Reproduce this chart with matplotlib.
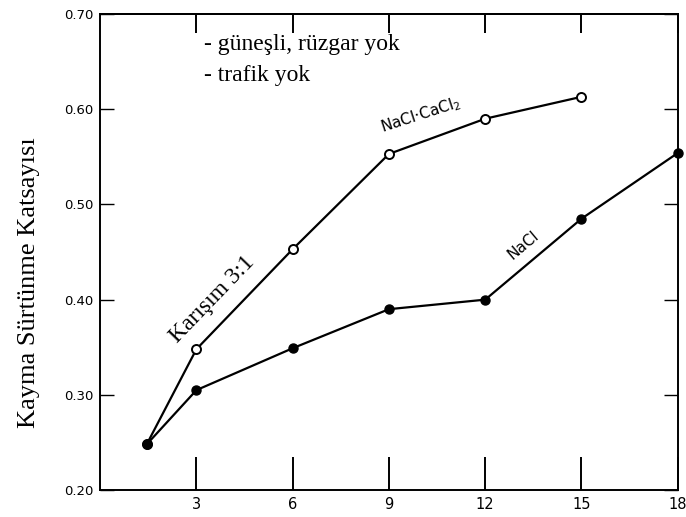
import matplotlib.pyplot as plt

# veriler
gun_karisim = [1.45, 3, 6, 9, 12, 15]
karisim = [0.248, 0.348, 0.453, 0.553, 0.590, 0.613]
gun_nacl = [1.45, 3, 6, 9, 12, 15, 18]
nacl = [0.248, 0.305, 0.349, 0.390, 0.400, 0.485, 0.554]
xticks = [3, 6, 9, 12, 15, 18]
yticks = [0.20, 0.30, 0.40, 0.50, 0.60, 0.70]

fig = plt.figure(figsize=(6.86, 5.17), dpi=100)
ax = fig.add_axes([0.146, 0.052, 0.842, 0.921])

ax.plot(gun_karisim, karisim, color='black', lw=1.6, marker='o', ms=6.5,
        mfc='white', mec='black', mew=1.4, clip_on=False, zorder=3)
ax.plot(gun_nacl, nacl, color='black', lw=1.6, marker='o', ms=6.5,
        mfc='black', mec='black', clip_on=False, zorder=3)

ax.set_xlim(0, 18)
ax.set_ylim(0.20, 0.70)
ax.set_xticks(xticks)
ax.set_xticklabels([str(t) for t in xticks], fontsize=10.5)
ax.set_yticks(yticks)
ax.set_yticklabels(['%.2f' % v for v in yticks], fontsize=9.5)
ax.tick_params(axis='x', direction='in', length=24, width=1.4, pad=5)
ax.tick_params(axis='y', direction='in', length=10, width=1.0, right=True, pad=5)
top = ax.secondary_xaxis('top')
top.set_xticks(xticks)
top.set_xticklabels([])
top.tick_params(direction='in', length=14, width=1.4)
for s in list(ax.spines.values()) + [top.spines['top']]:
    s.set_linewidth(1.4)

ax.set_ylabel('Kayma Sürtünme Katsayısı', family='Liberation Serif', fontsize=19)
ax.yaxis.set_label_coords(-0.105, 0.435)

ax.text(0.18, 0.935, '- güneşli, rüzgar yok', transform=ax.transAxes,
        family='Liberation Serif', fontsize=17, va='center')
ax.text(0.18, 0.870, '- trafik yok', transform=ax.transAxes,
        family='Liberation Serif', fontsize=17, va='center')

ax.text(10.0, 0.594, 'NaCl·CaCl$_2$', rotation=18, fontsize=11,
        ha='center', va='center')
ax.text(13.2, 0.457, 'NaCl', rotation=40, fontsize=11, ha='center', va='center')
ax.text(3.5, 0.40, 'Karışım 3:1', rotation=46, family='Liberation Serif',
        fontsize=17, ha='center', va='center')

fig.savefig('out.png', dpi=100)
